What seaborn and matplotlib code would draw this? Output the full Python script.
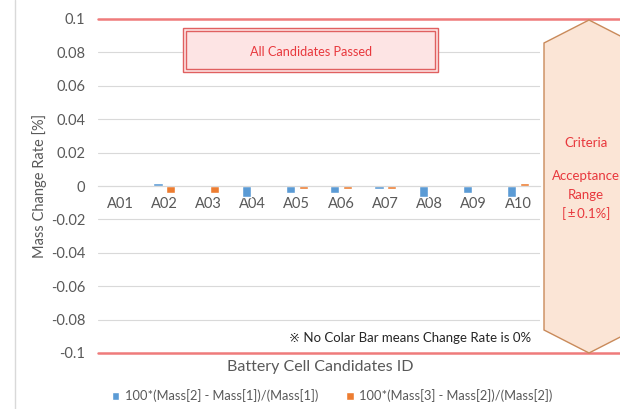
import numpy as np
import pandas as pd
import matplotlib.pyplot as plt
import seaborn as sns
from matplotlib.patches import Polygon, Rectangle

# =============================================
# Data
cell_ids = ['A01', 'A02', 'A03', 'A04', 'A05', 'A06', 'A07', 'A08', 'A09', 'A10']
rate_2_1 = [0.0, 0.002, 0.0, -0.0065, -0.004, -0.004, -0.002, -0.0065, -0.004, -0.0065]
rate_3_2 = [0.0, -0.004, -0.004, 0.0, -0.002, -0.002, -0.002, 0.0, 0.0, 0.002]
series_names = ['100*(Mass[2] - Mass[1])/(Mass[1])', '100*(Mass[3] - Mass[2])/(Mass[2])']
y_ticks = [0.1, 0.08, 0.06, 0.04, 0.02, 0, -0.02, -0.04, -0.06, -0.08, -0.1]

# =============================================
# Plotting parameters
W, H = 620, 409
blue = '#5b9bd5'
orange = '#ed7d31'
limit_red = '#ef7b7b'
text_red = '#e8383d'
grid_grey = '#d9d9d9'
label_grey = '#595959'

sns.set_style('white')
plt.rcParams['font.family'] = ['Lato', 'DejaVu Sans']


def px(x, y):
    # pixel position in the 620x409 picture -> figure fraction
    return x / W, 1 - y / H


df = pd.DataFrame({
    'id': cell_ids * 2,
    'rate': rate_2_1 + rate_3_2,
    'series': [series_names[0]] * len(cell_ids) + [series_names[1]] * len(cell_ids),
})

fig = plt.figure(figsize=(W / 100, H / 100), dpi=100)
ax = fig.add_axes([98 / W, (H - 353) / H, 442 / W, 334 / H])

sns.barplot(data=df, x='id', y='rate', hue='series', palette=[blue, orange],
            width=0.57, gap=0.26, saturation=1, ax=ax, legend=True)
handles, labels = ax.get_legend_handles_labels()
ax.get_legend().remove()

ax.set_ylim(-0.1, 0.1)
ax.set_yticks(y_ticks)
ax.set_yticklabels(['0' if v == 0 else f'{v:g}' for v in y_ticks])
ax.yaxis.grid(True, color=grid_grey, lw=0.8)
ax.set_axisbelow(True)
for s in ['top', 'right', 'left']:
    ax.spines[s].set_visible(False)
ax.spines['bottom'].set_position(('data', 0))
ax.spines['bottom'].set_color(grid_grey)
ax.tick_params(axis='both', length=0, labelsize=10.5, labelcolor=label_grey)
ax.tick_params(axis='x', pad=8)
ax.tick_params(axis='y', pad=9)
ax.set_xlabel('')
ax.set_ylabel('Mass Change Rate [%]', fontsize=10.5, color=label_grey, labelpad=3)

# acceptance limits
for lim in [0.1, -0.1]:
    ax.axhline(lim, xmin=0, xmax=(W - 98) / 442, color=limit_red, lw=1.8,
               clip_on=False, zorder=5)

# criteria hexagon
hexagon = [px(544, 43), px(589, 20), px(634, 43), px(634, 330), px(589, 353), px(544, 330)]
fig.patches.append(Polygon(hexagon, closed=True, transform=fig.transFigure,
                           facecolor='#fbe5d6', edgecolor='#c98a5a', lw=1, zorder=1))
for txt, yy in [('Criteria', 143), ('Acceptance', 176), ('Range', 195),
                ('[\u2009\u00b1\u20090.1%]', 214)]:
    fig.text(*px(586, yy), txt, ha='center', va='center', color=text_red, fontsize=9.5)

# "All Candidates Passed" box
x0, y0 = px(183, 72)
x1, y1 = px(438, 28)
fig.patches.append(Rectangle((x0, y0), x1 - x0, y1 - y0, transform=fig.transFigure,
                             facecolor='#fde4e4', edgecolor='#e06060', lw=1))
xi0, yi0 = px(186, 69)
xi1, yi1 = px(435, 31)
fig.patches.append(Rectangle((xi0, yi0), xi1 - xi0, yi1 - yi0, transform=fig.transFigure,
                             facecolor='none', edgecolor='#e06060', lw=1))
fig.text(*px(311, 52), 'All Candidates Passed', ha='center', va='center',
         color=text_red, fontsize=9.2)

fig.text(*px(531, 338), '\u203b No Colar Bar means Change Rate is 0%', ha='right', va='center',
         color='#262626', fontsize=9.5)

fig.text(*px(320, 367), 'Battery Cell Candidates ID', ha='center', va='center',
         color=label_grey, fontsize=11.5)

fig.legend(handles, labels, loc='center left', bbox_to_anchor=px(100, 396), ncol=2,
           frameon=False, fontsize=9.3, handlelength=0.6, handleheight=0.6,
           handletextpad=0.4, columnspacing=2.2, labelcolor=label_grey)

# chart area border
fig.add_artist(plt.Line2D([15 / W, 15 / W], [0, 1], color=grid_grey, lw=1))

plt.savefig('out.png', dpi=100)
